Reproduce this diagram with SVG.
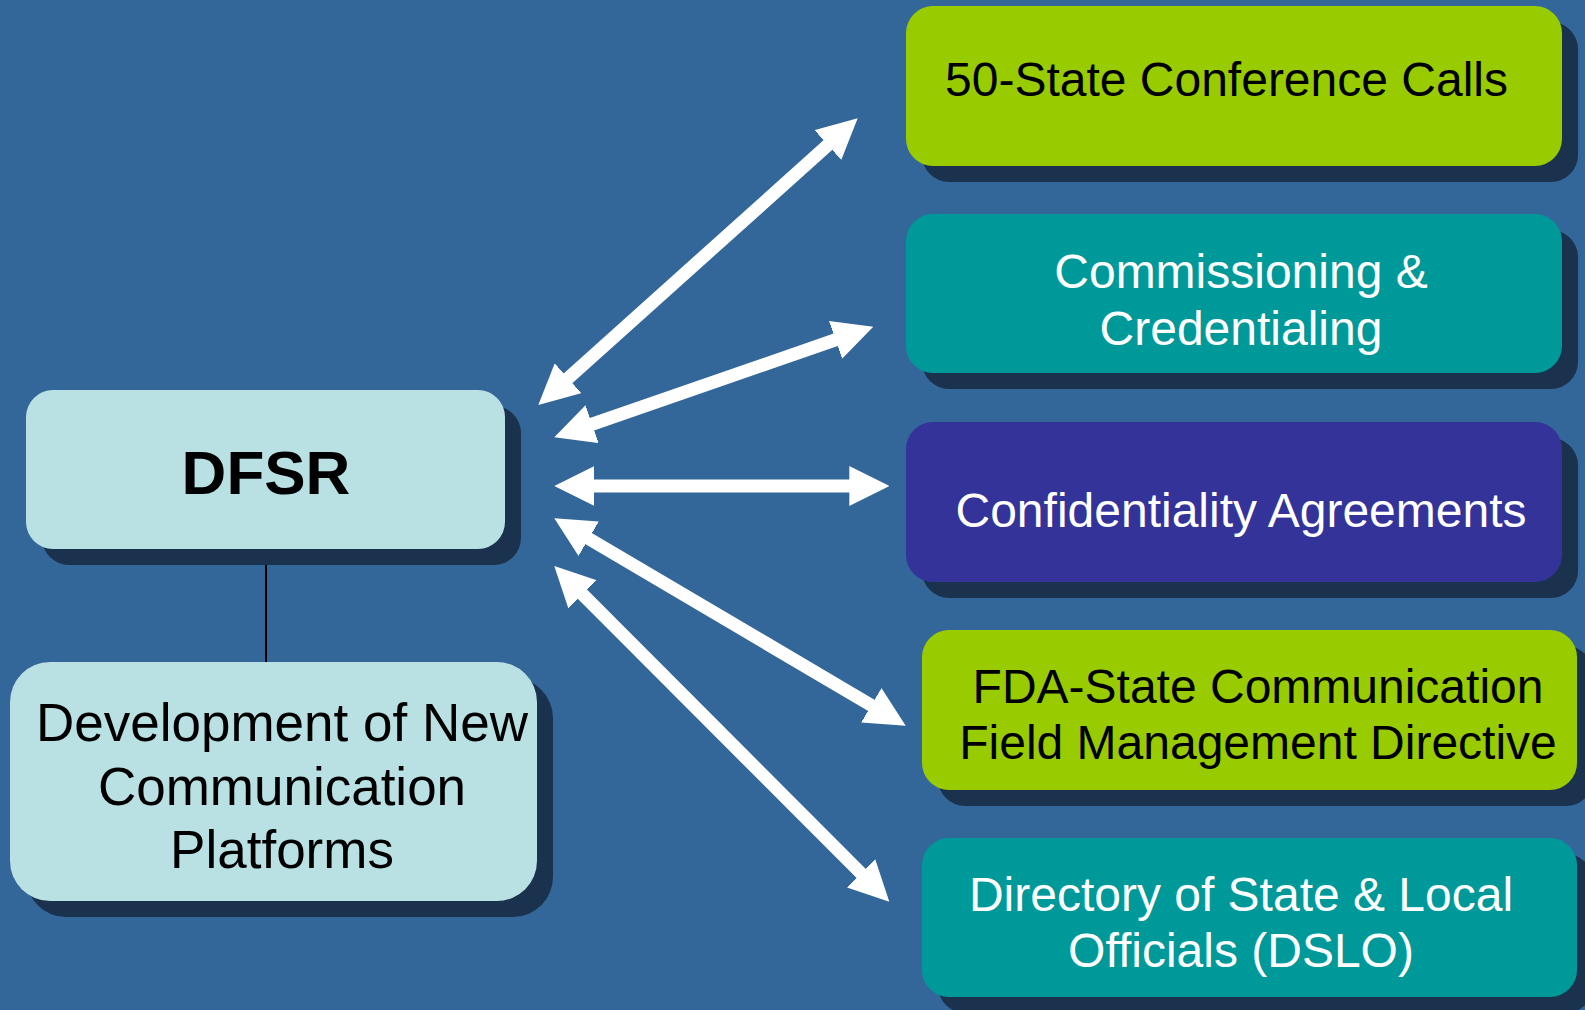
<svg xmlns="http://www.w3.org/2000/svg" width="1585" height="1010" viewBox="0 0 1585 1010">
  <defs>
    <style>
      .shadow { fill: #1B324E; }
      .green { fill: #99CC00; }
      .teal { fill: #009999; }
      .purple { fill: #333399; }
      .light { fill: #B9E0E3; }
      text { font-family: "Liberation Sans", Arial, sans-serif; font-size: 48px; }
      .dark { fill: #000000; }
      .white { fill: #FFFFFF; }
      .mid { text-anchor: middle; }
      .arrow { stroke: #FFFFFF; stroke-width: 13; fill: none; marker-start: url(#head); marker-end: url(#head); }
    </style>
    <marker id="head" viewBox="0 0 40 40" markerWidth="40" markerHeight="40" markerUnits="userSpaceOnUse" refX="20" refY="20" orient="auto-start-reverse">
      <path d="M0,0 L40,20 L0,40 Z" fill="#FFFFFF"/>
    </marker>
  </defs>
  <rect x="0" y="0" width="1585" height="1010" fill="#336699"/>

  <g id="connectors">
    <line x1="266" y1="549" x2="266" y2="662" stroke="#000000" stroke-width="2"/>
    <line class="arrow" x1="553.2" y1="391.6" x2="842.8" y2="131.7"/>
    <line class="arrow" x1="573.2" y1="430.75" x2="854.4" y2="333.25"/>
    <line class="arrow" x1="574.3" y1="486" x2="869.3" y2="486"/>
    <line class="arrow" x1="571.5" y1="528.5" x2="888.5" y2="715.5"/>
    <line class="arrow" x1="568.4" y1="580.2" x2="875.2" y2="887.5"/>
  </g>

  <g id="dfsr">
    <rect class="shadow" x="42" y="406" width="479" height="159" rx="27"/>
    <rect class="light" x="26" y="390" width="479" height="159" rx="27"/>
    <text class="dark mid" x="266" y="494" style="font-size:62px;font-weight:bold">DFSR</text>
  </g>

  <g id="development">
    <rect class="shadow" x="26" y="678" width="527" height="239" rx="40"/>
    <rect class="light" x="10" y="662" width="527" height="239" rx="40"/>
    <text class="dark mid" style="font-size:53px"><tspan x="282" y="741">Development of New</tspan><tspan x="282" y="805">Communication</tspan><tspan x="282" y="868">Platforms</tspan></text>
  </g>

  <g id="conference-calls">
    <rect class="shadow" x="922" y="22" width="656" height="160" rx="27"/>
    <rect class="green" x="906" y="6" width="656" height="160" rx="27"/>
    <text class="dark" x="945" y="96">50-State Conference Calls</text>
  </g>

  <g id="commissioning">
    <rect class="shadow" x="922" y="230" width="656" height="159" rx="27"/>
    <rect class="teal" x="906" y="214" width="656" height="159" rx="27"/>
    <text class="white mid"><tspan x="1241" y="288">Commissioning &amp;</tspan><tspan x="1241" y="345">Credentialing</tspan></text>
  </g>

  <g id="confidentiality">
    <rect class="shadow" x="922" y="438" width="656" height="160" rx="27"/>
    <rect class="purple" x="906" y="422" width="656" height="160" rx="27"/>
    <text class="white mid" x="1241" y="527">Confidentiality Agreements</text>
  </g>

  <g id="fda-state">
    <rect class="shadow" x="938" y="646" width="655" height="160" rx="27"/>
    <rect class="green" x="922" y="630" width="655" height="160" rx="27"/>
    <text class="dark mid"><tspan x="1258" y="703">FDA-State Communication</tspan><tspan x="1258" y="759">Field Management Directive</tspan></text>
  </g>

  <g id="dslo">
    <rect class="shadow" x="938" y="854" width="655" height="159" rx="27"/>
    <rect class="teal" x="922" y="838" width="655" height="159" rx="27"/>
    <text class="white mid"><tspan x="1241" y="911">Directory of State &amp; Local</tspan><tspan x="1241" y="967">Officials (DSLO)</tspan></text>
  </g>
</svg>
